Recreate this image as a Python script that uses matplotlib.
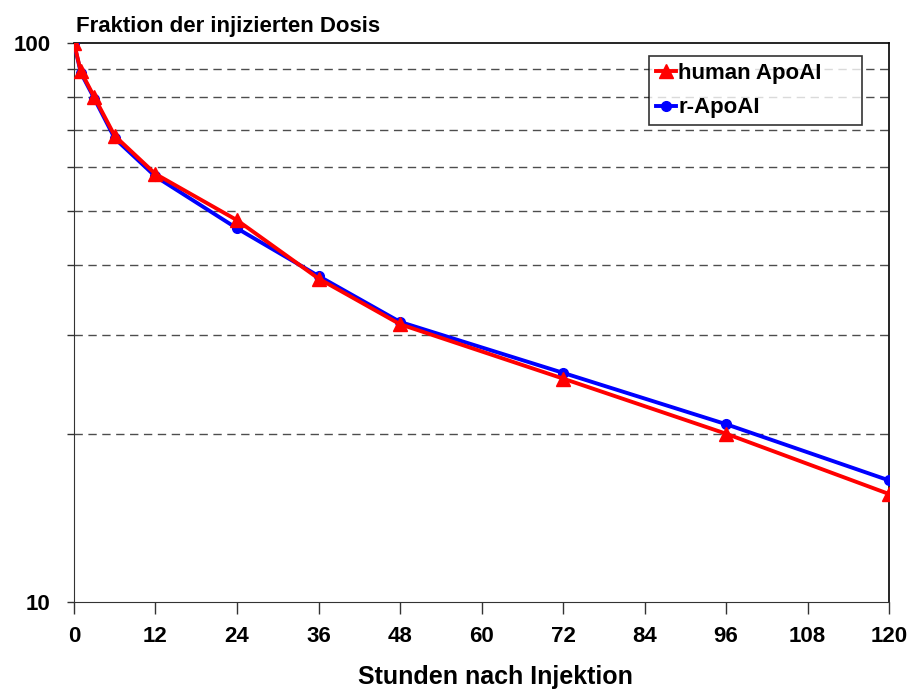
import matplotlib.pyplot as plt
from matplotlib.ticker import FixedLocator, NullFormatter

plt.rcParams['font.family'] = ['Liberation Sans', 'DejaVu Sans']
plt.rcParams['font.weight'] = 'bold'

# Stunden nach Injektion
hours = [0, 1, 3, 6, 12, 24, 36, 48, 72, 96, 120]
# Fraktion der injizierten Dosis (%)
human_apoai = [100, 89, 80, 68.2, 58.3, 48.2, 37.9, 31.4, 25.1, 20.0, 15.6]
r_apoai = [100, 88.5, 79.5, 67.5, 57.7, 46.6, 38.3, 31.7, 25.7, 20.8, 16.5]

x_ticks = list(range(0, 121, 12))
grid_levels = [20, 30, 40, 50, 60, 70, 80, 90]

fig = plt.figure(figsize=(9.1, 6.89), dpi=100)
ax = fig.add_axes([0.0813, 0.1263, 0.8957, 0.8113])

# gestrichelte Hilfslinien
for level in grid_levels:
    ax.axhline(level, color='#4d4d4d', lw=1.0, ls=(0, (6, 4)), zorder=1)

ax.plot(hours, human_apoai, color='red', lw=2.8, marker='^', markersize=10,
        label='human ApoAI', zorder=4)
ax.plot(hours, r_apoai, color='blue', lw=2.8, marker='o', markersize=7,
        label='r-ApoAI', zorder=3)

ax.set_yscale('log')
ax.set_ylim(10, 100)
ax.set_xlim(0, 120)
ax.set_xticks(x_ticks)
ax.yaxis.set_major_locator(FixedLocator([10, 100]))
ax.yaxis.set_minor_locator(FixedLocator(grid_levels))
ax.yaxis.set_major_formatter(plt.FuncFormatter(lambda v, p: '%d' % v))
ax.yaxis.set_minor_formatter(NullFormatter())

ax.tick_params(axis='both', which='both', direction='out', width=1,
               labelsize=16, color='#333333')
ax.tick_params(axis='y', which='both', length=5)
ax.tick_params(axis='y', which='major', pad=12)
ax.tick_params(axis='x', length=8.5, pad=9)
for lab in ax.get_xticklabels() + ax.get_yticklabels():
    lab.set_fontweight('bold')

for side in ['left', 'bottom']:
    ax.spines[side].set_color('#333333')
for side in ['right', 'top']:
    ax.spines[side].set_color('black')
ax.spines['right'].set_linewidth(1.2)
ax.spines['top'].set_linewidth(1.2)

fig.text(0.544, 0.0075, 'Stunden nach Injektion', fontsize=18,
         fontweight='bold', ha='center', va='baseline')
fig.text(0.083, 0.9536, 'Fraktion der injizierten Dosis', fontsize=16,
         fontweight='bold', ha='left', va='baseline')

leg = ax.legend(loc='upper left', bbox_to_anchor=(0.7055, 0.0, 0.2614, 0.977),
                mode='expand', borderaxespad=0, fontsize=16,
                frameon=True, fancybox=False, edgecolor='black',
                handlelength=0.9, handletextpad=0.1, borderpad=0.32,
                labelspacing=0.6)
leg.get_frame().set_linewidth(1.2)
for t in leg.get_texts():
    t.set_fontweight('bold')

fig.savefig('out.png', dpi=100)
